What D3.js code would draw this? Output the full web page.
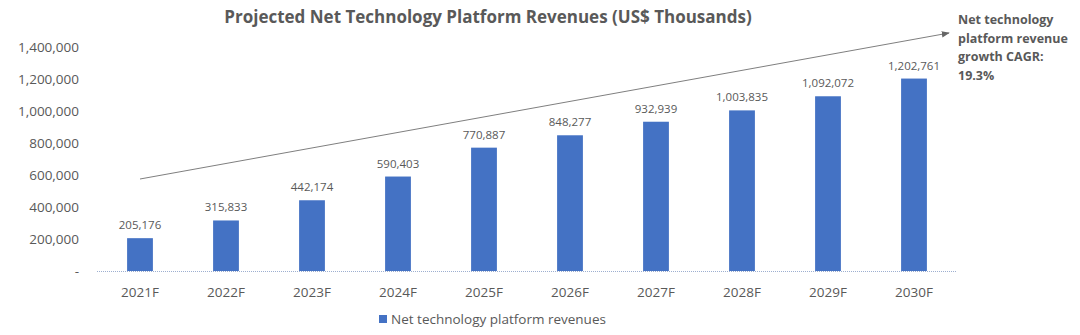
<!DOCTYPE html>
<html>
<head>
<meta charset="utf-8">
<script src="https://cdn.jsdelivr.net/npm/d3@7"></script>
<style>
  body { margin: 0; background: #fff; }
  svg text { font-family: "Open Sans", "Noto Sans", sans-serif; fill: #595959; }
</style>
</head>
<body>
<svg id="chart" width="1080" height="335"></svg>
<script>
// Chart data
const years = ["2021F", "2022F", "2023F", "2024F", "2025F", "2026F", "2027F", "2028F", "2029F", "2030F"];
const revenues = [205176, 315833, 442174, 590403, 770887, 848277, 932939, 1003835, 1092072, 1202761];
const yTicks = [0, 200000, 400000, 600000, 800000, 1000000, 1200000, 1400000];
const cagrLines = ["Net technology", "platform revenue", "growth CAGR:", "19.3%"];

const svg = d3.select("#chart");
const barColor = "#4472C4";

// Plot area
const plotLeft = 97, plotRight = 957, plotTop = 47, plotBottom = 271;

const x = d3.scaleBand().domain(years).range([plotLeft, plotRight]).paddingInner(0.7).paddingOuter(0.35);
const y = d3.scaleLinear().domain([0, 1400000]).range([plotBottom, plotTop]);

// Title
svg.append("text")
  .attr("x", 488).attr("y", 23)
  .attr("text-anchor", "middle")
  .style("font-size", "17px").style("font-weight", "bold")
  .text("Projected Net Technology Platform Revenues (US$ Thousands)");

// Y axis labels (no axis line)
const fmt = d3.format(",");
svg.append("g").selectAll("text")
  .data(yTicks).enter().append("text")
  .attr("x", 79).attr("y", d => y(d))
  .attr("dy", "0.35em")
  .attr("text-anchor", "end")
  .style("font-size", "13.5px")
  .text(d => d === 0 ? "-" : fmt(d));

// Bars
svg.append("g").selectAll("rect")
  .data(revenues).enter().append("rect")
  .attr("x", (d, i) => x(years[i]))
  .attr("width", x.bandwidth())
  .attr("y", d => y(d))
  .attr("height", d => y(0) - y(d))
  .attr("fill", barColor);

// Value labels
svg.append("g").selectAll("text")
  .data(revenues).enter().append("text")
  .attr("x", (d, i) => x(years[i]) + x.bandwidth() / 2)
  .attr("y", d => y(d) - 9)
  .attr("text-anchor", "middle")
  .style("font-size", "11.5px")
  .text(d => fmt(d));

// Baseline
svg.append("line")
  .attr("x1", plotLeft).attr("x2", plotRight)
  .attr("y1", y(0) + 0.5).attr("y2", y(0) + 0.5)
  .attr("stroke", "#9dafd0").attr("stroke-width", 1)
  .attr("stroke-dasharray", "1,1");

// Category labels
svg.append("g").selectAll("text")
  .data(years).enter().append("text")
  .attr("x", d => x(d) + x.bandwidth() / 2)
  .attr("y", 297)
  .attr("text-anchor", "middle")
  .style("font-size", "13.5px")
  .text(d => d);

// Growth arrow
svg.append("defs").append("marker")
  .attr("id", "arrowhead")
  .attr("viewBox", "0 0 10 10")
  .attr("refX", 9).attr("refY", 5)
  .attr("markerWidth", 8).attr("markerHeight", 8)
  .attr("orient", "auto")
  .append("path")
  .attr("d", "M0,1 L10,5 L0,9 Z")
  .attr("fill", "#666");

svg.append("line")
  .attr("x1", 140).attr("y1", 179)
  .attr("x2", 949).attr("y2", 33)
  .attr("stroke", "#7f7f7f").attr("stroke-width", 1)
  .attr("marker-end", "url(#arrowhead)");

// CAGR annotation
svg.append("g").selectAll("text")
  .data(cagrLines).enter().append("text")
  .attr("x", 958)
  .attr("y", (d, i) => 24 + i * 18.5)
  .style("font-size", "12.5px").style("font-weight", "bold")
  .text(d => d);

// Legend
const legend = svg.append("g");
legend.append("rect")
  .attr("x", 379).attr("y", 315).attr("width", 8).attr("height", 8)
  .attr("fill", barColor);
legend.append("text")
  .attr("x", 391).attr("y", 324)
  .style("font-size", "13.5px")
  .text("Net technology platform revenues");
</script>
</body>
</html>
